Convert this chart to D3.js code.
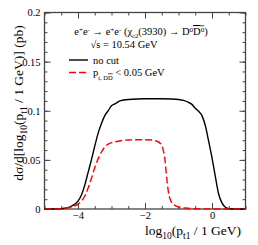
<!DOCTYPE html>
<html>
<head>
<meta charset="utf-8">
<script src="https://cdn.jsdelivr.net/npm/d3@7"></script>
<style>
  body { margin: 0; background: #fff; }
  svg text { font-family: "Times New Roman", "Liberation Serif", serif !important; fill: #000; }
</style>
</head>
<body>
<div id="chart"></div>
<script>
// no cut curve (black solid)
var noCutX = [-5, -4.6, -4.4, -4.2, -4.0, -3.9, -3.8, -3.7, -3.6, -3.5, -3.4, -3.3, -3.2, -3.1, -3.0, -2.9, -2.75, -2.5, -2.0, -1.5,
              -1.2, -1.0, -0.85, -0.7, -0.6, -0.5, -0.4, -0.3, -0.2, -0.1, 0.0, 0.1, 0.2, 0.3, 0.4, 0.5, 0.6, 1.0]
var noCutY = [0, 0.0001, 0.0008, 0.0028, 0.008, 0.014, 0.024, 0.037, 0.05, 0.064, 0.077, 0.087, 0.095, 0.1, 0.105, 0.107, 0.11, 0.1115, 0.1122, 0.1122,
              0.112, 0.1115, 0.1105, 0.1085, 0.1065, 0.1025, 0.0995, 0.095, 0.085, 0.069, 0.052, 0.033, 0.015, 0.006, 0.0018, 0.0003, 0, 0]
// pt(DDbar) < 0.05 GeV (red dashed)
var cutX = [-5, -4.6, -4.4, -4.2, -4.0, -3.9, -3.8, -3.7, -3.6, -3.5, -3.4, -3.3, -3.2, -3.1, -3.0, -2.8, -2.5, -2.0, -1.8, -1.65,
            -1.55, -1.48, -1.43, -1.4, -1.37, -1.33, -1.3, -1.25, -1.2, -1.1, -1.0, -0.8, -0.5, 0, 1]
var cutY = [0, 0.0001, 0.0006, 0.002, 0.005, 0.008, 0.013, 0.021, 0.031, 0.042, 0.051, 0.058, 0.063, 0.066, 0.0675, 0.069, 0.0703, 0.0705, 0.0703, 0.069,
            0.067, 0.063, 0.056, 0.049, 0.038, 0.025, 0.017, 0.01, 0.0065, 0.0035, 0.002, 0.001, 0.0003, 0, 0]

var xMajor = [-4, -2, 0]
var xMinor = d3.range(-5, 1.01, 0.5)
var yMajor = [0, 0.05, 0.1, 0.15, 0.2]
var yMinor = d3.range(0, 0.2001, 0.01)

var width = 258, height = 245
var svg = d3.select("#chart").append("svg")
    .attr("width", width)
    .attr("height", height)

var X = d3.scaleLinear().domain([-5, 1]).range([44.5, 245.5])
var Y = d3.scaleLinear().domain([0, 0.2]).range([209, 12.5])

function yFmt(d) { return d === 0 ? "0" : String(+d.toFixed(2)) }
function xFmt(d) { return d < 0 ? "\u2212" + Math.abs(d) : String(d) }

// minor ticks all four sides
svg.append("g").attr("transform", "translate(0," + Y(0) + ")")
    .call(d3.axisBottom(X).tickValues(xMinor).tickSize(-3).tickFormat(""))
svg.append("g").attr("transform", "translate(0," + Y(0.2) + ")")
    .call(d3.axisTop(X).tickValues(xMinor).tickSize(-3).tickFormat(""))
svg.append("g").attr("transform", "translate(" + X(-5) + ",0)")
    .call(d3.axisLeft(Y).tickValues(yMinor).tickSize(-3).tickFormat(""))
svg.append("g").attr("transform", "translate(" + X(1) + ",0)")
    .call(d3.axisRight(Y).tickValues(yMinor).tickSize(-3).tickFormat(""))
// major ticks
svg.append("g").attr("class", "lab").attr("transform", "translate(0," + Y(0) + ")")
    .call(d3.axisBottom(X).tickValues(xMajor).tickSize(-6).tickPadding(3).tickFormat(xFmt))
svg.append("g").attr("transform", "translate(0," + Y(0.2) + ")")
    .call(d3.axisTop(X).tickValues(xMajor).tickSize(-6).tickFormat(""))
svg.append("g").attr("class", "lab").attr("transform", "translate(" + X(-5) + ",0)")
    .call(d3.axisLeft(Y).tickValues(yMajor).tickSize(-6).tickPadding(4).tickFormat(yFmt))
svg.append("g").attr("transform", "translate(" + X(1) + ",0)")
    .call(d3.axisRight(Y).tickValues(yMajor).tickSize(-6).tickFormat(""))

svg.selectAll(".domain").remove()
svg.selectAll(".tick line").attr("stroke", "#444")
svg.selectAll(".lab text")
    .style("font-size", "10.5px")
    .attr("fill", "#000")

// frame
svg.append("rect")
    .attr("x", X(-5)).attr("y", Y(0.2))
    .attr("width", X(1) - X(-5)).attr("height", Y(0) - Y(0.2))
    .attr("fill", "none").attr("stroke", "#444").attr("stroke-width", 1.3)

var line = d3.line().x(function(d){ return X(d[0]) }).y(function(d){ return Y(d[1]) })
    .curve(d3.curveMonotoneX)

svg.append("path")
    .datum(d3.zip(noCutX, noCutY))
    .attr("fill", "none").attr("stroke", "#000").attr("stroke-width", 1.4)
    .attr("d", line)
svg.append("path")
    .datum(d3.zip(cutX, cutY))
    .attr("fill", "none").attr("stroke", "#ff0000").attr("stroke-width", 1.4)
    .attr("stroke-dasharray", "7,3")
    .attr("d", line)

// header text
var t1 = svg.append("text").attr("x", 141).attr("y", 35).attr("text-anchor", "middle").style("font-size", "10.5px")
t1.append("tspan").text("e")
t1.append("tspan").attr("dy", -3.5).style("font-size", "7px").text("+")
t1.append("tspan").attr("dy", 3.5).text("e")
t1.append("tspan").attr("dy", -3.5).style("font-size", "7px").text("-")
t1.append("tspan").attr("dy", 3.5).text(" \u2192 e")
t1.append("tspan").attr("dy", -3.5).style("font-size", "7px").text("+")
t1.append("tspan").attr("dy", 3.5).text("e")
t1.append("tspan").attr("dy", -3.5).style("font-size", "7px").text("-")
t1.append("tspan").attr("dy", 3.5).text(" (\u03c7")
t1.append("tspan").attr("dy", 2.5).style("font-size", "6.5px").text("c2")
t1.append("tspan").attr("dy", -2.5).text("(3930) \u2192 D")
t1.append("tspan").attr("dy", -3.5).style("font-size", "7px").text("0")
t1.append("tspan").attr("dy", 3.5).style("text-decoration", "overline").text("D")
t1.append("tspan").attr("dy", -3.5).style("font-size", "7px").style("text-decoration", "overline").text("0")
t1.append("tspan").attr("dy", 3.5).text(")")

svg.append("text").attr("x", 124).attr("y", 48).attr("text-anchor", "middle")
    .style("font-size", "10.5px").text("\u221as = 10.54 GeV")

// legend
svg.append("line").attr("x1", 69).attr("x2", 88).attr("y1", 60).attr("y2", 60)
    .attr("stroke", "#000").attr("stroke-width", 1.4)
svg.append("text").attr("x", 93).attr("y", 63.5).style("font-size", "10.5px").text("no cut")
svg.append("line").attr("x1", 69).attr("x2", 88).attr("y1", 72.5).attr("y2", 72.5)
    .attr("stroke", "#ff0000").attr("stroke-width", 1.4).attr("stroke-dasharray", "7,3")
var t2 = svg.append("text").attr("x", 93).attr("y", 75.5).style("font-size", "10.5px")
t2.append("tspan").text("p")
t2.append("tspan").attr("dy", 4).style("font-size", "6.5px").text("t, D")
t2.append("tspan").style("font-size", "6.5px").style("text-decoration", "overline").text("D")
t2.append("tspan").attr("dy", -4).text(" < 0.05 GeV")

// axis titles
var xl = svg.append("text").attr("x", 193).attr("y", 235).attr("text-anchor", "middle").style("font-size", "13.5px")
xl.append("tspan").text("log")
xl.append("tspan").attr("dy", 4).style("font-size", "9.5px").text("10")
xl.append("tspan").attr("dy", -4).text("(p")
xl.append("tspan").attr("dy", 4).style("font-size", "9.5px").text("t1")
xl.append("tspan").attr("dy", -4).text(" / 1 GeV)")

var yl = svg.append("text").attr("transform", "translate(23,103) rotate(-90)")
    .attr("text-anchor", "middle").style("font-size", "13.5px")
yl.append("tspan").text("d\u03c3/d[log")
yl.append("tspan").attr("dy", 4).style("font-size", "9.5px").text("10")
yl.append("tspan").attr("dy", -4).text("(p")
yl.append("tspan").attr("dy", 4).style("font-size", "9.5px").text("t1")
yl.append("tspan").attr("dy", -4).text(" / 1 GeV)] (pb)")
</script>
</body>
</html>
